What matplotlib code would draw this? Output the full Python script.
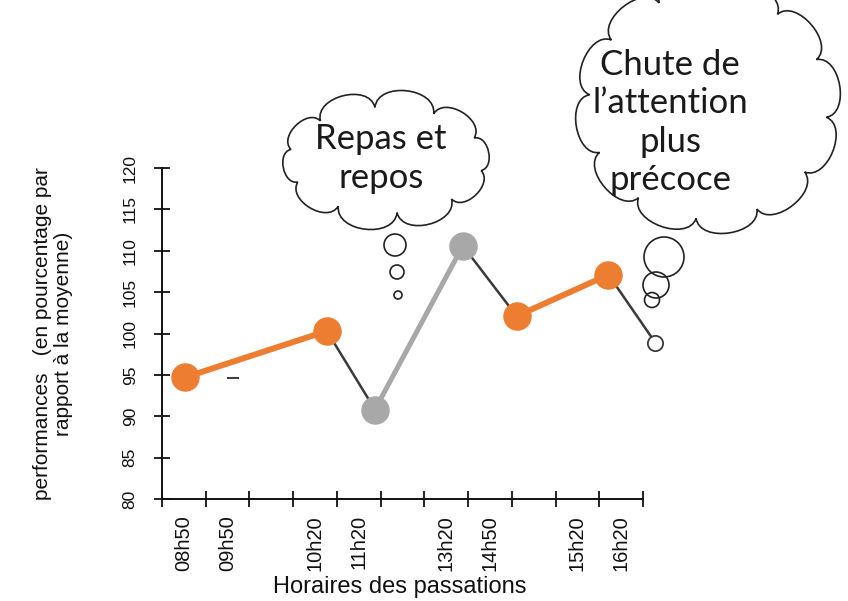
import numpy as np
import matplotlib
matplotlib.use('Agg')
import matplotlib.pyplot as plt
from matplotlib.path import Path
from matplotlib.patches import PathPatch, Circle

plt.rcParams['font.family'] = ['Liberation Sans', 'DejaVu Sans']

# categories de l'axe x (une case par creneau, certaines sans etiquette)
horaires = ['08h50', '09h50', '', '10h20', '11h20', '', '13h20', '14h50', '', '15h20', '16h20']
# position des points sur l'axe (en cases) et performance en %
x_pts = [0.53, 3.77, 4.87, 6.88, 8.11, 10.21, 11.28]
perf = [94.7, 100.3, 90.8, 110.6, 102.1, 107.1, 98.9]
# petit trait isole vers 09h50
x_trait = [1.63]
y_trait = [94.6]

ORANGE = '#ED7D31'
GRIS = '#A8A8A8'
FONCE = '#3a3a3a'

seg_orange = [(0, 1), (4, 5)]
seg_gris = [(2, 3)]
seg_fonce = [(1, 2), (3, 4), (5, 6)]
pts_orange = [0, 1, 4, 5]
pts_gris = [2, 3]
pts_blanc = [6]

fig = plt.figure(figsize=(8.48, 6.01), dpi=100)
ax = fig.add_axes([162/848, 102/601, 481/848, 331/601])

for segs, c, lw in [(seg_fonce, FONCE, 1.8), (seg_orange, ORANGE, 4.3), (seg_gris, GRIS, 3.6)]:
    for i, j in segs:
        ax.plot([x_pts[i], x_pts[j]], [perf[i], perf[j]], color=c, lw=lw,
                solid_capstyle='butt', zorder=2, clip_on=False)

ax.plot([x_pts[i] for i in pts_orange], [perf[i] for i in pts_orange], 'o', ms=19.5,
        color=ORANGE, mec=ORANGE, zorder=3, clip_on=False)
ax.plot([x_pts[i] for i in pts_gris], [perf[i] for i in pts_gris], 'o', ms=19.5,
        color=GRIS, mec=GRIS, zorder=3, clip_on=False)
ax.plot([x_pts[i] for i in pts_blanc], [perf[i] for i in pts_blanc], 'o', ms=11,
        color='white', mec=FONCE, mew=1.3, zorder=3, clip_on=False)
ax.plot(x_trait, y_trait, marker='_', ms=8, mew=1.4, color=FONCE, ls='none')

ax.set_xlim(0, 11)
ax.set_ylim(80, 120)
for s in ['top', 'right']:
    ax.spines[s].set_visible(False)
for s in ['left', 'bottom']:
    ax.spines[s].set_linewidth(1.4)
    ax.spines[s].set_color('#111111')

ax.set_xticks(range(12))
ax.set_xticklabels([])
ax.set_xticks(np.arange(11) + 0.5, minor=True)
ax.set_xticklabels(horaires, minor=True, rotation=90)
ax.tick_params(axis='x', which='major', direction='inout', length=11, width=1.3, color='#111111')
ax.tick_params(axis='x', which='minor', length=0, pad=11.5, labelsize=14.5, labelcolor='#111111')
ax.set_yticks(range(80, 121, 5))
ax.tick_params(axis='y', direction='inout', length=11, width=1.3, color='#111111',
               labelsize=12.5, labelrotation=90, pad=12, labelcolor='#111111')
for t in ax.get_yticklabels():
    t.set_va('center')

ax.set_ylabel('performances   (en pourcentage par\nrapport à la moyenne)', fontsize=15,
              linespacing=1.15, color='#111111')
ax.yaxis.set_label_coords(-0.227, 0.5)
ax.yaxis.label.set_va('center')
ax.set_xlabel('Horaires des passations', fontsize=17, color='#111111')
ax.xaxis.set_label_coords(0.495, -0.266)
ax.xaxis.label.set_va('center')

# calque en pixels pour les bulles de pensee
ov = fig.add_axes([0, 0, 1, 1])
ov.set_xlim(0, 848)
ov.set_ylim(601, 0)
ov.axis('off')
ov.patch.set_alpha(0)


def nuage(cx, cy, a, b, n, phase, bosse):
    t = np.linspace(0, 2*np.pi, n + 1) + phase
    p = np.c_[cx + a*np.cos(t), cy + b*np.sin(t)]
    verts = [p[0]]
    codes = [Path.MOVETO]
    for k in range(n):
        p0, p1 = p[k], p[k+1]
        d = p1 - p0
        nrm = np.array([d[1], -d[0]])
        m = (p0 + p1)/2
        if np.dot(nrm, m - [cx, cy]) < 0:
            nrm = -nrm
        verts += [p0 + nrm*bosse, p1 + nrm*bosse, p1]
        codes += [Path.CURVE4]*3
    return Path(verts, codes)


ov.add_patch(PathPatch(nuage(386, 160, 97, 53, 10, 0.2, 0.45), fc='white', ec='#222222', lw=1.2))
ov.add_patch(PathPatch(nuage(708, 106, 119, 113, 12, 0.1, 0.42), fc='white', ec='#222222', lw=1.2))

for (x, y, r) in [(395, 245, 11), (397, 272, 7), (398, 295, 4),
                  (664, 257, 20), (656, 285, 13), (652, 300, 7.5)]:
    ov.add_patch(Circle((x, y), r, fill=False, ec='#222222', lw=1.2))

fnt = dict(family=['Lato', 'DejaVu Sans'], fontsize=25, color='#1a1a1a', ha='center', va='baseline')
for txt, y in [('Repas et', 149), ('repos', 188)]:
    ov.text(381, y, txt, **fnt)
for txt, y in [('Chute de', 75), ('l’attention', 113), ('plus', 152), ('précoce', 190)]:
    ov.text(670, y, txt, **fnt)

fig.savefig('out.png', dpi=100)
